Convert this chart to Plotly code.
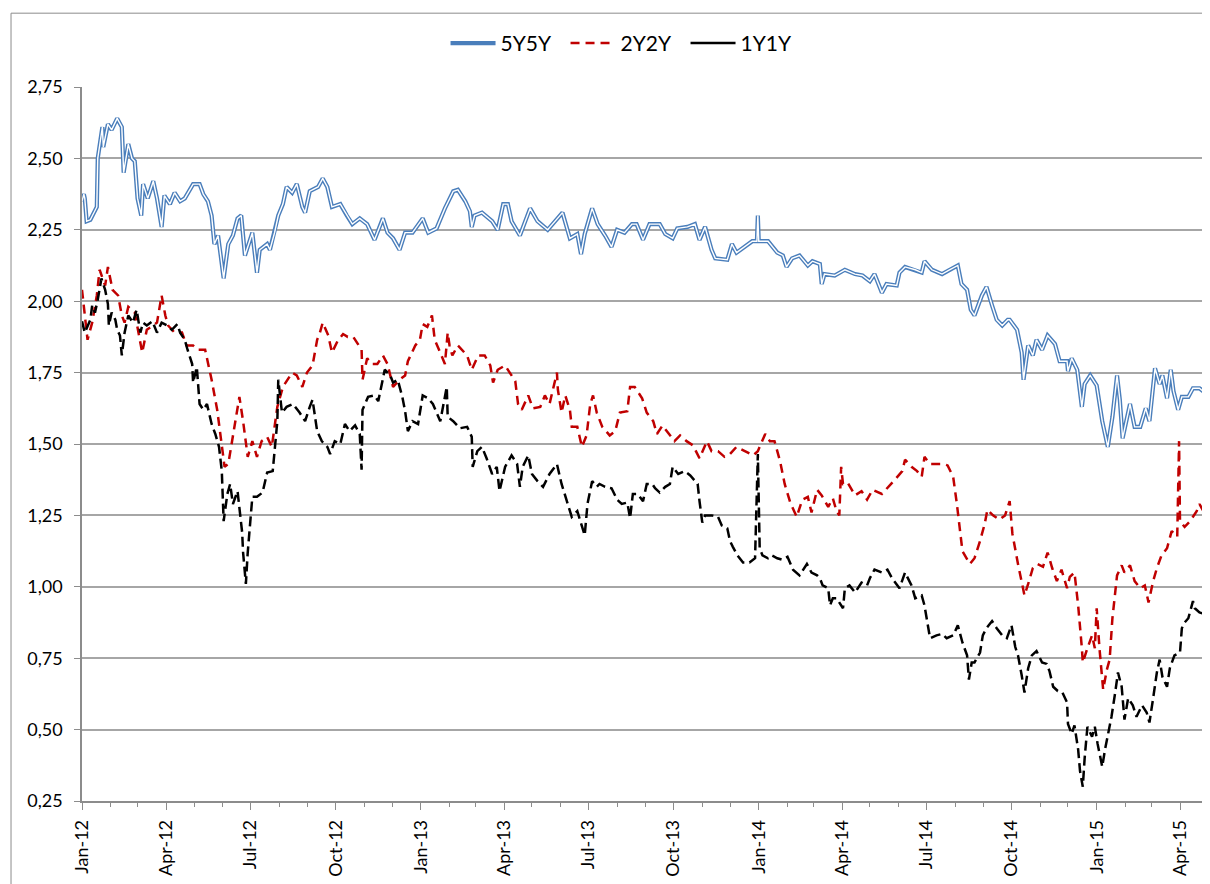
import pandas as pd
import plotly.graph_objects as go

start_date = "2012-01-01"  # day offsets below are counted from this date

# (day offset, value) pairs
fwd_5y5y = [(0,2.35),(2,2.375),(3,2.36),(5,2.28),(9,2.285),(16,2.33),(17,2.50),(22,2.61),(23,2.54),(28,2.62),(32,2.60),(38,2.64),(43,2.61),(45,2.45),(50,2.55),(54,2.50),(57,2.49),(60,2.36),(64,2.30),(66,2.41),(71,2.36),(77,2.42),(81,2.36),(86,2.26),(89,2.37),(95,2.34),(100,2.38),(106,2.35),(111,2.36),(120,2.41),(127,2.41),(131,2.375),(136,2.35),(140,2.30),(143,2.20),(147,2.23),(153,2.08),(158,2.20),(163,2.23),(168,2.29),(172,2.30),(176,2.16),(184,2.24),(189,2.10),(192,2.18),(200,2.20),(203,2.18),(208,2.24),(212,2.30),(217,2.34),(221,2.40),(227,2.38),(232,2.41),(238,2.33),(241,2.31),(246,2.385),(255,2.40),(260,2.43),(265,2.40),(270,2.33),(279,2.34),(286,2.30),(292,2.27),(300,2.29),(308,2.27),(316,2.215),(325,2.29),(330,2.24),(336,2.22),(343,2.18),(349,2.24),(357,2.24),(368,2.29),(374,2.24),(383,2.255),(392,2.325),(401,2.385),(406,2.39),(414,2.35),(419,2.315),(421,2.26),(424,2.30),(432,2.31),(443,2.28),(449,2.25),(455,2.34),(460,2.34),(464,2.28),(473,2.23),(484,2.325),(492,2.28),(503,2.25),(511,2.28),(519,2.31),(527,2.22),(535,2.235),(539,2.165),(543,2.235),(551,2.325),(557,2.27),(565,2.23),(572,2.19),(578,2.25),(586,2.24),(594,2.27),(599,2.27),(606,2.215),(613,2.27),(624,2.27),(630,2.235),(638,2.22),(643,2.255),(654,2.26),(662,2.27),(667,2.215),(673,2.26),(680,2.18),(684,2.15),(697,2.145),(702,2.20),(707,2.17),(716,2.19),(724,2.21),(729,2.21),(730,2.30),(731,2.21),(741,2.21),(751,2.17),(757,2.16),(761,2.12),(767,2.15),(775,2.16),(784,2.125),(789,2.14),(797,2.13),(799,2.06),(802,2.095),(813,2.09),(824,2.11),(835,2.095),(843,2.09),(851,2.07),(856,2.095),(864,2.03),(869,2.06),(880,2.055),(883,2.10),(889,2.12),(900,2.11),(907,2.10),(910,2.14),(918,2.11),(929,2.095),(937,2.11),(946,2.125),(950,2.06),(956,2.04),(960,1.97),(964,1.95),(972,2.02),(977,2.05),(983,1.985),(988,1.935),(994,1.915),(1000,1.935),(1002,1.935),(1010,1.90),(1015,1.82),(1017,1.725),(1022,1.845),(1027,1.81),(1031,1.865),(1037,1.83),(1043,1.88),(1051,1.85),(1056,1.79),(1064,1.79),(1065,1.755),(1069,1.80),(1075,1.76),(1080,1.63),(1083,1.71),(1089,1.74),(1096,1.705),(1102,1.58),(1108,1.49),(1113,1.595),(1118,1.74),(1121,1.655),(1124,1.52),(1132,1.64),(1137,1.56),(1143,1.56),(1149,1.625),(1153,1.58),(1159,1.765),(1164,1.71),(1167,1.74),(1172,1.66),(1176,1.76),(1179,1.685),(1184,1.62),(1188,1.665),(1195,1.665),(1200,1.695),(1207,1.695),(1213,1.68)]

fwd_2y2y = [(0,2.04),(2,1.985),(6,1.865),(11,1.925),(16,2.02),(19,2.11),(25,2.055),(28,2.12),(33,2.04),(39,2.02),(43,1.95),(46,1.925),(50,1.98),(57,1.96),(65,1.82),(70,1.90),(76,1.915),(81,1.925),(86,2.02),(90,1.95),(93,1.915),(100,1.89),(108,1.89),(113,1.845),(120,1.845),(125,1.83),(133,1.83),(140,1.725),(146,1.62),(151,1.50),(154,1.42),(158,1.43),(162,1.51),(167,1.60),(170,1.665),(174,1.58),(177,1.51),(179,1.455),(184,1.51),(189,1.455),(194,1.51),(200,1.525),(205,1.49),(211,1.63),(217,1.70),(227,1.75),(232,1.74),(238,1.70),(243,1.75),(249,1.775),(254,1.865),(257,1.89),(260,1.925),(266,1.88),(270,1.82),(276,1.86),(282,1.885),(287,1.875),(293,1.875),(298,1.85),(302,1.83),(303,1.725),(308,1.80),(313,1.78),(319,1.78),(325,1.81),(330,1.78),(336,1.70),(343,1.725),(349,1.74),(352,1.79),(360,1.845),(365,1.865),(368,1.92),(373,1.91),(378,1.95),(381,1.865),(387,1.82),(392,1.78),(395,1.89),(397,1.845),(400,1.81),(406,1.845),(416,1.81),(421,1.76),(428,1.81),(435,1.81),(441,1.775),(444,1.715),(449,1.76),(457,1.775),(462,1.75),(468,1.72),(471,1.64),(475,1.62),(482,1.67),(487,1.625),(495,1.63),(500,1.67),(505,1.64),(513,1.75),(514,1.69),(518,1.61),(522,1.67),(527,1.62),(529,1.56),(535,1.56),(540,1.49),(545,1.53),(549,1.64),(552,1.67),(556,1.61),(562,1.56),(570,1.53),(576,1.545),(581,1.61),(589,1.615),(592,1.70),(597,1.70),(605,1.66),(610,1.61),(617,1.58),(621,1.535),(627,1.565),(635,1.53),(640,1.51),(646,1.53),(653,1.51),(660,1.495),(667,1.45),(675,1.51),(680,1.475),(687,1.475),(694,1.455),(700,1.465),(707,1.49),(716,1.475),(725,1.46),(730,1.475),(738,1.535),(743,1.51),(748,1.51),(754,1.44),(759,1.36),(765,1.295),(772,1.245),(778,1.305),(784,1.315),(788,1.26),(794,1.34),(799,1.32),(806,1.28),(811,1.31),(815,1.265),(818,1.25),(820,1.42),(822,1.36),(827,1.365),(835,1.32),(842,1.335),(848,1.305),(854,1.34),(864,1.325),(870,1.345),(878,1.375),(886,1.405),(889,1.445),(896,1.42),(902,1.405),(907,1.385),(910,1.455),(916,1.43),(923,1.43),(930,1.43),(935,1.425),(941,1.385),(945,1.29),(948,1.195),(951,1.125),(959,1.08),(964,1.10),(970,1.16),(975,1.22),(978,1.27),(984,1.25),(991,1.235),(997,1.25),(1002,1.30),(1005,1.185),(1011,1.08),(1015,1.02),(1018,0.97),(1022,1.01),(1027,1.065),(1032,1.08),(1038,1.07),(1043,1.12),(1048,1.065),(1053,1.02),(1058,1.06),(1064,0.995),(1067,1.035),(1072,1.05),(1076,0.935),(1080,0.785),(1081,0.735),(1086,0.785),(1091,0.83),(1094,0.785),(1096,0.925),(1099,0.785),(1103,0.64),(1107,0.71),(1110,0.745),(1113,0.89),(1118,1.04),(1123,1.075),(1126,1.05),(1132,1.075),(1137,1.02),(1143,0.995),(1148,1.005),(1152,0.945),(1157,1.02),(1161,1.065),(1166,1.11),(1172,1.135),(1177,1.195),(1183,1.175),(1185,1.51),(1186,1.23),(1191,1.21),(1197,1.23),(1204,1.265),(1207,1.29),(1212,1.26)]

fwd_1y1y = [(0,1.93),(3,1.89),(9,1.935),(11,1.985),(14,1.96),(17,2.005),(21,2.08),(25,2.04),(28,1.99),(29,1.915),(32,1.96),(36,1.935),(38,1.90),(41,1.88),(43,1.81),(46,1.89),(50,1.95),(55,1.925),(59,1.97),(63,1.89),(66,1.925),(70,1.915),(76,1.93),(81,1.89),(86,1.925),(92,1.915),(97,1.90),(103,1.92),(106,1.89),(111,1.865),(114,1.83),(119,1.78),(120,1.715),(124,1.77),(127,1.64),(131,1.62),(135,1.64),(140,1.57),(144,1.535),(148,1.49),(151,1.405),(153,1.23),(157,1.325),(160,1.36),(163,1.29),(168,1.335),(173,1.19),(174,1.12),(177,1.01),(179,1.12),(184,1.315),(189,1.315),(195,1.33),(200,1.40),(206,1.405),(211,1.58),(212,1.725),(216,1.61),(221,1.63),(228,1.64),(235,1.61),(241,1.58),(246,1.63),(249,1.655),(254,1.545),(259,1.51),(265,1.49),(268,1.465),(273,1.51),(279,1.50),(284,1.57),(289,1.545),(295,1.565),(300,1.535),(302,1.41),(303,1.62),(309,1.665),(316,1.67),(320,1.65),(324,1.715),(327,1.76),(333,1.74),(336,1.715),(341,1.725),(346,1.665),(349,1.615),(352,1.545),(357,1.58),(363,1.57),(368,1.67),(374,1.66),(379,1.64),(387,1.58),(394,1.70),(395,1.595),(401,1.58),(408,1.555),(416,1.56),(421,1.525),(422,1.42),(427,1.475),(432,1.49),(437,1.45),(443,1.395),(448,1.42),(451,1.335),(457,1.42),(464,1.46),(470,1.43),(473,1.35),(476,1.42),(482,1.46),(486,1.395),(492,1.37),(498,1.35),(505,1.395),(513,1.43),(518,1.36),(525,1.29),(529,1.245),(535,1.265),(540,1.215),(543,1.18),(546,1.29),(551,1.37),(556,1.35),(559,1.36),(565,1.35),(572,1.345),(578,1.305),(583,1.29),(589,1.295),(592,1.24),(595,1.325),(600,1.325),(606,1.30),(610,1.36),(616,1.36),(619,1.345),(624,1.33),(630,1.35),(635,1.36),(638,1.42),(644,1.395),(651,1.405),(657,1.39),(662,1.37),(665,1.36),(667,1.30),(670,1.225),(673,1.25),(680,1.25),(687,1.245),(691,1.215),(697,1.205),(700,1.16),(703,1.14),(708,1.11),(714,1.085),(721,1.085),(727,1.10),(730,1.465),(732,1.135),(735,1.11),(741,1.10),(745,1.11),(751,1.10),(756,1.095),(762,1.105),(768,1.06),(775,1.04),(783,1.08),(788,1.05),(794,1.04),(797,1.03),(800,1.005),(806,0.995),(808,0.935),(811,0.96),(815,0.96),(822,0.925),(824,0.995),(829,1.005),(835,0.98),(842,1.015),(848,1.005),(851,1.03),(856,1.06),(864,1.05),(870,1.06),(875,1.03),(883,0.995),(889,1.05),(896,1.005),(900,0.96),(907,0.97),(910,0.935),(914,0.855),(916,0.82),(923,0.83),(929,0.835),(934,0.82),(941,0.83),(946,0.865),(951,0.805),(956,0.76),(958,0.675),(961,0.735),(964,0.735),(970,0.77),(973,0.83),(977,0.855),(983,0.88),(988,0.855),(994,0.83),(999,0.82),(1004,0.865),(1008,0.79),(1011,0.76),(1015,0.69),(1018,0.63),(1022,0.715),(1026,0.76),(1031,0.775),(1037,0.735),(1042,0.73),(1045,0.705),(1049,0.65),(1054,0.635),(1059,0.63),(1064,0.595),(1065,0.52),(1069,0.485),(1072,0.515),(1076,0.43),(1078,0.355),(1081,0.30),(1083,0.40),(1086,0.51),(1091,0.475),(1094,0.51),(1097,0.45),(1102,0.37),(1105,0.43),(1108,0.475),(1112,0.545),(1116,0.63),(1119,0.70),(1123,0.65),(1126,0.535),(1130,0.61),(1135,0.585),(1139,0.545),(1145,0.585),(1150,0.56),(1153,0.525),(1157,0.61),(1161,0.70),(1164,0.745),(1167,0.685),(1172,0.65),(1175,0.715),(1180,0.76),(1186,0.77),(1188,0.855),(1191,0.875),(1195,0.89),(1200,0.95),(1202,0.925),(1207,0.91),(1212,0.905)]

series_names = ["5Y5Y", "2Y2Y", "1Y1Y"]
y_ticks = [0.25, 0.50, 0.75, 1.00, 1.25, 1.50, 1.75, 2.00, 2.25, 2.50, 2.75]
x_range = ["2012-01-01", "2015-04-28"]

base = pd.Timestamp(start_date)


def unpack(pairs):
    d = [base + pd.Timedelta(days=p[0]) for p in pairs]
    v = [p[1] for p in pairs]
    return d, v


x5, y5 = unpack(fwd_5y5y)
x2, y2 = unpack(fwd_2y2y)
x1, y1 = unpack(fwd_1y1y)

BLUE = "#4a7ebb"
RED = "#c00000"
GREY = "#8c8c8c"
FONT = "Lato"

fig = go.Figure()
# 5Y5Y: double line (blue outline, white core)
fig.add_trace(go.Scatter(x=x5, y=y5, mode="lines", name=series_names[0],
                         line=dict(color=BLUE, width=4.2), legendgroup="a"))
fig.add_trace(go.Scatter(x=x5, y=y5, mode="lines", showlegend=False,
                         line=dict(color="white", width=1.4), legendgroup="a",
                         hoverinfo="skip"))
fig.add_trace(go.Scatter(x=x2, y=y2, mode="lines", name=series_names[1],
                         line=dict(color=RED, width=2.5, dash="9px,6px")))
fig.add_trace(go.Scatter(x=x1, y=y1, mode="lines", showlegend=False,
                         line=dict(color="black", width=2.5, dash="10px,5px"),
                         legendgroup="c"))
fig.add_trace(go.Scatter(x=[None], y=[None], mode="lines", name=series_names[2],
                         line=dict(color="black", width=2.5), legendgroup="c"))

# the page body adds an 8px offset, so the figure is 8px smaller than the window
fig.update_layout(
    width=1202, height=876,
    margin=dict(l=74, r=5, t=79, b=83),
    paper_bgcolor="white", plot_bgcolor="white",
    separators=", ",
    font=dict(family=FONT, size=18, color="black"),
    showlegend=True,
    legend=dict(orientation="h", x=0.484, xanchor="center", y=1.061, yanchor="middle",
                font=dict(size=21), itemwidth=45, entrywidth=60,
                bgcolor="rgba(0,0,0,0)", traceorder="normal"),
    xaxis=dict(
        type="date", range=x_range,
        tick0="2012-01-01", dtick="M3", tickformat="%b-%y", tickangle=-90,
        ticks="outside", ticklen=7, tickcolor=GREY, tickwidth=1,
        showline=True, linecolor=GREY, linewidth=1.5,
        showgrid=False, zeroline=False,
        minor=dict(dtick="M1", tick0="2012-01-01", ticks="outside", ticklen=4,
                   tickcolor=GREY, showgrid=False),
        ticklabelstandoff=3,
    ),
    yaxis=dict(
        range=[0.25, 2.75], tickvals=y_ticks, tickformat=".2f",
        ticks="outside", ticklen=6, tickcolor=GREY,
        showline=True, linecolor=GREY, linewidth=1.5,
        showgrid=True, gridcolor="#a6a6a6", gridwidth=1.5, zeroline=False,
        ticklabelstandoff=8,
    ),
    shapes=[dict(type="rect", xref="paper", yref="paper",
                 x0=-0.0632, x1=1.02, y0=-0.15, y1=1.1034,
                 line=dict(color=GREY, width=1), fillcolor="rgba(0,0,0,0)",
                 layer="below")],
)

fig.write_html("out.html")
